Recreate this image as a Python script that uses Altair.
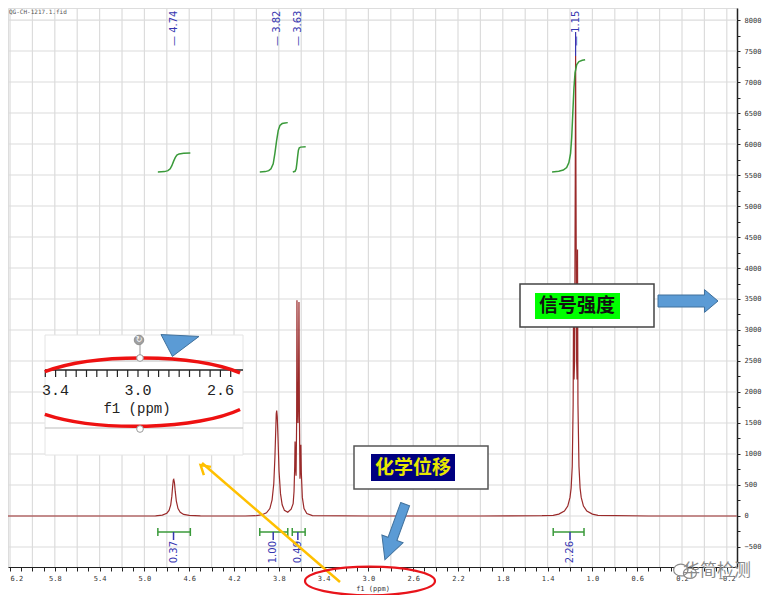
import altair as alt
import pandas as pd

# ---------------- values ----------------
# spectrum (ppm, intensity), one small list per region
base_left = [(6.22, 0), (5.50, 0), (5.00, 0)]
peak_474 = [(4.90, 3), (4.84, 15), (4.80, 45), (4.78, 90), (4.765, 180), (4.755, 320), (4.748, 480),
            (4.742, 580), (4.738, 590), (4.732, 540), (4.725, 400), (4.715, 240), (4.70, 120),
            (4.68, 60), (4.65, 25), (4.60, 10), (4.50, 2)]
peak_382 = [(4.10, 0), (4.00, 5), (3.95, 20), (3.91, 50), (3.88, 120), (3.86, 260), (3.845, 520),
            (3.835, 940), (3.828, 1350), (3.823, 1650), (3.819, 1700), (3.814, 1600), (3.807, 1250),
            (3.798, 720), (3.785, 360), (3.77, 180), (3.75, 90), (3.72, 60), (3.69, 110)]
peak_363 = [(3.672, 200), (3.664, 400), (3.658, 800), (3.655, 1200), (3.651, 800), (3.646, 650),
            (3.641, 1500), (3.638, 3480), (3.634, 2000), (3.629, 1500), (3.624, 2000), (3.620, 3450),
            (3.616, 1600), (3.611, 600), (3.606, 800), (3.603, 1150), (3.599, 700), (3.59, 300),
            (3.575, 120), (3.55, 40), (3.50, 5)]
base_mid = [(3.00, 0), (2.00, 0), (1.45, 5)]
peak_115 = [(1.35, 10), (1.30, 30), (1.25, 80), (1.22, 160), (1.20, 300), (1.19, 450), (1.18, 800),
            (1.172, 1800), (1.168, 3700), (1.164, 2200), (1.159, 2500), (1.153, 5500), (1.150, 7420),
            (1.147, 5500), (1.141, 2500), (1.137, 2200), (1.133, 4300), (1.129, 1800), (1.12, 800),
            (1.11, 450), (1.10, 300), (1.08, 160), (1.05, 80), (1.00, 30), (0.95, 10)]
base_right = [(0.50, 0), (-0.29, 0)]

# peak picking labels
peak_ppm = [4.74, 3.82, 3.63, 1.15]
peak_text = ["4.74", "3.82", "3.63", "1.15"]

# integrals
int_text = ["0.37", "1.00", "0.49", "2.26"]
int_from = [4.88, 3.97, 3.68, 1.35]
int_to = [4.59, 3.72, 3.565, 1.075]
int_mid = [4.74, 3.85, 3.63, 1.20]

# integral curves (ppm, curve level)
curve_037 = [(4.88, 5550), (4.82, 5555), (4.79, 5570), (4.77, 5600), (4.755, 5650), (4.74, 5720),
             (4.725, 5780), (4.71, 5820), (4.69, 5840), (4.65, 5850), (4.59, 5855)]
curve_100 = [(3.97, 5550), (3.92, 5555), (3.89, 5570), (3.87, 5600), (3.85, 5680), (3.835, 5850),
             (3.82, 6050), (3.805, 6220), (3.79, 6300), (3.77, 6330), (3.745, 6340), (3.72, 6345)]
curve_049 = [(3.675, 5550), (3.655, 5560), (3.645, 5600), (3.638, 5700), (3.632, 5800),
             (3.625, 5900), (3.617, 5940), (3.605, 5950), (3.56, 5955)]
curve_226 = [(1.36, 5550), (1.30, 5560), (1.26, 5580), (1.23, 5620), (1.21, 5700), (1.195, 5850),
             (1.185, 6100), (1.175, 6500), (1.165, 6900), (1.155, 7150), (1.14, 7280), (1.12, 7330),
             (1.09, 7350), (1.065, 7360)]

# axes / grid
x_ticks = [6.2, 6.1, 6.0, 5.9, 5.8, 5.7, 5.6, 5.5, 5.4, 5.3, 5.2, 5.1, 5.0, 4.9, 4.8, 4.7, 4.6, 4.5,
           4.4, 4.3, 4.2, 4.1, 4.0, 3.9, 3.8, 3.7, 3.6, 3.5, 3.4, 3.3, 3.2, 3.1, 3.0, 2.9, 2.8, 2.7,
           2.6, 2.5, 2.4, 2.3, 2.2, 2.1, 2.0, 1.9, 1.8, 1.7, 1.6, 1.5, 1.4, 1.3, 1.2, 1.1, 1.0, 0.9,
           0.8, 0.7, 0.6, 0.5, 0.4, 0.3, 0.2, 0.1, 0.0, -0.1, -0.2]
x_grid = [6.2, 6.0, 5.8, 5.6, 5.4, 5.2, 5.0, 4.8, 4.6, 4.4, 4.2, 4.0, 3.8, 3.6, 3.4, 3.2, 3.0,
          2.8, 2.6, 2.4, 2.2, 2.0, 1.8, 1.6, 1.4, 1.2, 1.0, 0.8, 0.6, 0.4, 0.2, 0.0, -0.2]
y_ticks = [-750, -500, -250, 0, 250, 500, 750, 1000, 1250, 1500, 1750, 2000, 2250, 2500, 2750, 3000,
           3250, 3500, 3750, 4000, 4250, 4500, 4750, 5000, 5250, 5500, 5750, 6000, 6250, 6500, 6750,
           7000, 7250, 7500, 7750, 8000]
y_grid = [-500, 0, 500, 1000, 1500, 2000, 2500, 3000, 3500, 4000, 4500, 5000, 5500, 6000, 6500,
          7000, 7500, 8000]

# inset (zoomed axis) labels and ticks
inset_labels = ["3.4", "3.0", "2.6"]
inset_label_ppm = [3.4, 3.0, 2.6]
inset_ticks = [3.45, 3.4, 3.35, 3.3, 3.25, 3.2, 3.15, 3.1, 3.05, 3.0, 2.95, 2.9, 2.85, 2.8, 2.75,
               2.7, 2.65, 2.6, 2.55]

# ---------------- layout ----------------
W, H = 729, 559
X_LEFT, X_RIGHT = 6.218, -0.291
Y_BOT, Y_TOP = -823, 8194


def px(sx):
    return sx - 8


def py(sy):
    return sy - 8


def ppm_at(sx):
    return X_LEFT - (sx - 8) * (X_LEFT - X_RIGHT) / W


def val_at(sy):
    return Y_TOP - (sy - 8) * (Y_TOP - Y_BOT) / H


XS = alt.Scale(domain=[X_RIGHT, X_LEFT], reverse=True, nice=False, zero=False)
YS = alt.Scale(domain=[Y_BOT, Y_TOP], nice=False, zero=False)
XAXIS = alt.Axis(values=x_ticks, grid=False, title="f1 (ppm)",
                 labelExpr="abs(round(datum.value*10) % 4) == 2 ? format(datum.value, '.1f') : ''",
                 labelAlign={"condition": {"test": "datum.value > 6.1", "value": "left"}, "value": "center"},
                 tickSize=4, tickColor="#222", domainColor="#222", labelColor="#333",
                 labelFont="DejaVu Sans Mono", labelFontSize=7, labelPadding=3,
                 titleFont="DejaVu Sans Mono", titleFontSize=7, titleFontWeight="normal",
                 titleColor="#333", titlePadding=3, labelFlush=False)
YAXIS = alt.Axis(values=y_ticks, orient="right", grid=False, title=None,
                 labelExpr="datum.value % 500 == 0 ? format(datum.value, 'd') : ''",
                 tickSize=3, tickColor="#222", domainColor="#222", domainWidth=1.5,
                 labelColor="#333", labelFont="DejaVu Sans Mono", labelFontSize=7,
                 labelPadding=4, labelFlush=False)


def X(f):
    return alt.X(f"{f}:Q", scale=XS, axis=XAXIS)


def Y(f):
    return alt.Y(f"{f}:Q", scale=YS, axis=YAXIS)


def pts(lst, name):
    return pd.DataFrame({"ppm": [p for p, _ in lst], "v": [v for _, v in lst], "g": name})


one = pd.DataFrame({"a": [0]})

# grid
gx = alt.Chart(pd.DataFrame({"ppm": x_grid})).mark_rule(color="#dcdcdc", strokeWidth=1.2).encode(
    x=X("ppm"), y=alt.value(0), y2=alt.value(H))
gy = alt.Chart(pd.DataFrame({"v": y_grid})).mark_rule(color="#dcdcdc", strokeWidth=1.2).encode(
    y=Y("v"), x=alt.value(0), x2=alt.value(W))

spec = pd.concat([pts(base_left, "s"), pts(peak_474, "s"), pts(peak_382, "s"), pts(peak_363, "s"),
                  pts(base_mid, "s"), pts(peak_115, "s"), pts(base_right, "s")])
spec_line = alt.Chart(spec).mark_line(color="#9a2a2a", strokeWidth=1.2).encode(x=X("ppm"), y=Y("v"))

curves = pd.concat([pts(curve_037, "a"), pts(curve_100, "b"), pts(curve_049, "c"), pts(curve_226, "d")])
curve_line = alt.Chart(curves).mark_line(color="#3a9a3a", strokeWidth=1.5).encode(
    x=X("ppm"), y=Y("v"), detail="g:N")

# peak labels at top
pk = pd.DataFrame({"ppm": peak_ppm, "t": ["— " + t for t in peak_text]})
peak_lbl = alt.Chart(pk).mark_text(angle=270, align="left", baseline="middle", color="#3636b0",
                                   font="DejaVu Sans", fontSize=10).encode(
    x=X("ppm"), y=alt.value(py(46)), text="t:N")
tip = alt.Chart(pd.DataFrame({"ppm": [1.15], "v": [7420], "v2": [val_at(32)]})).mark_rule(
    color="#3636b0", strokeWidth=1.2).encode(x=X("ppm"), y=Y("v"), y2="v2:Q")

# integral bars
ib = pd.DataFrame({"a": int_from, "b": int_to, "m": int_mid, "t": int_text,
                   "yb": val_at(532), "ycap1": val_at(528), "ycap2": val_at(536), "ytk": val_at(540)})
bar = alt.Chart(ib).mark_rule(color="#3a9a3a", strokeWidth=1.5).encode(x=X("a"), x2="b:Q", y=Y("yb"))
cap1 = alt.Chart(ib).mark_rule(color="#3a9a3a", strokeWidth=1.5).encode(x=X("a"), y=Y("ycap1"), y2="ycap2:Q")
cap2 = alt.Chart(ib).mark_rule(color="#3a9a3a", strokeWidth=1.5).encode(x=X("b"), y=Y("ycap1"), y2="ycap2:Q")
itk = alt.Chart(ib).mark_rule(color="#3636b0", strokeWidth=1.5).encode(x=X("m"), y=Y("yb"), y2="ytk:Q")
ilbl = alt.Chart(ib).mark_text(angle=270, align="right", baseline="middle", color="#3636b0",
                               font="DejaVu Sans", fontSize=10).encode(
    x=X("m"), y=alt.value(py(541)), text="t:N")

# file name
fname = alt.Chart(pd.DataFrame({"t": ["QG-CH-1217.1.fid"]})).mark_text(
    align="left", baseline="middle", fontSize=6, font="DejaVu Sans Mono", color="#555").encode(
    x=alt.value(px(9)), y=alt.value(py(12)), text="t:N")

# ---------------- annotations ----------------
def box(x1, y1, x2, y2, fill, stroke=None, sw=1.5):
    kw = {"fill": fill}
    if stroke:
        kw.update(stroke=stroke, strokeWidth=sw)
    return alt.Chart(one).mark_rect(**kw).encode(
        x=alt.value(px(x1)), x2=alt.value(px(x2)), y=alt.value(py(y1)), y2=alt.value(py(y2)))


def label(sx, sy, t, **kw):
    return alt.Chart(pd.DataFrame({"t": [t]})).mark_text(**kw).encode(
        x=alt.value(px(sx)), y=alt.value(py(sy)), text="t:N")


def shape(sx, sy, path, size, **kw):
    return alt.Chart(one).mark_point(shape=path, size=size, opacity=1, **kw).encode(
        x=alt.value(px(sx)), y=alt.value(py(sy)))


def seg(x1, y1, x2, y2, color, sw):
    return alt.Chart(one).mark_rule(color=color, strokeWidth=sw).encode(
        x=alt.value(px(x1)), x2=alt.value(px(x2)), y=alt.value(py(y1)), y2=alt.value(py(y2)))


# 化学位移 box
shift_box = box(354, 446, 488, 489, "white", "#555")
shift_bg = box(371, 454, 455, 481, "#000080")
shift_txt = label(413, 468, "化学位移", font="Noto Sans CJK SC", fontSize=19, fontWeight="bold",
                  color="#e8e800", align="center", baseline="middle")
# 信号强度 box
sig_box = box(520, 284, 654, 327, "white", "#444")
sig_bg = box(535, 293, 620, 319, "#00ff00")
sig_txt = label(577, 306, "信号强度", font="Noto Sans CJK SC", fontSize=19, fontWeight="bold",
                color="#111", align="center", baseline="middle")

ARROW_R = "M -1 -0.2 L 0.55 -0.2 L 0.55 -0.38 L 1 0 L 0.55 0.38 L 0.55 0.2 L -1 0.2 Z"
ARROW_D = "M -0.16 -1 L 0.16 -1 L 0.16 0.25 L 0.38 0.25 L 0 1 L -0.38 0.25 L -0.16 0.25 Z"
right_arrow = shape(688, 301, ARROW_R, 3600, filled=True, fill="#5b9bd5", stroke="#41719c", strokeWidth=1)
down_arrow = shape(395, 532, ARROW_D, 3500, filled=True, fill="#5b9bd5", stroke="#41719c",
                   strokeWidth=1, angle=20)

# red ellipse around the axis label
ELL = "M -1 0 A 1 0.22 0 1 0 1 0 A 1 0.22 0 1 0 -1 0 Z"
ellipse = shape(370, 581, ELL, 130 * 130, filled=False, stroke="#e8141b", strokeWidth=2.2)

# inset
inset_bg = box(45, 335, 243, 455, "white", "#e4e4e4", 1)
in_l1 = seg(45, 361, 243, 361, "#bdbdbd", 1.2)
in_l2 = seg(45, 428, 243, 428, "#bdbdbd", 1.2)
in_axis = seg(45, 370, 243, 370, "#222", 1.5)


def inset_x(v):
    return ppm_at(138 + (3.0 - v) * 206)


itick = pd.DataFrame({"ppm": [inset_x(v) for v in inset_ticks]})
in_ticks = alt.Chart(itick).mark_rule(color="#222", strokeWidth=1.2).encode(
    x=X("ppm"), y=alt.value(py(370)), y2=alt.value(py(377)))
ilab = pd.DataFrame({"ppm": [inset_x(v) for v in inset_label_ppm], "t": inset_labels})
in_labels = alt.Chart(ilab).mark_text(font="Liberation Mono", fontSize=15, color="#222",
                                      baseline="middle").encode(
    x=X("ppm"), y=alt.value(py(390)), text="t:N")
in_title = label(137, 409, "f1 (ppm)", font="Liberation Mono", fontSize=14, color="#222",
                 align="center", baseline="middle")
ARCS = ("M -0.78 -0.175 A 1 0.29 0 0 1 0.82 -0.165 "
        "M -0.78 0.175 A 1 0.29 0 0 0 0.82 0.135")
in_arcs = shape(140, 393, ARCS, 244 * 244, filled=False, stroke="#ee1111", strokeWidth=3.5)
rot_line = seg(140, 344, 140, 358, "#999", 1)
handle1 = shape(140, 358, "circle", 45, filled=True, fill="white", stroke="#999", strokeWidth=1)
handle2 = shape(140, 429, "circle", 45, filled=True, fill="white", stroke="#999", strokeWidth=1)
rot = shape(139, 340, "circle", 90, filled=True, fill="#a0a0a0", stroke="#909090", strokeWidth=1)
rot_icon = label(139, 340, "↻", font="DejaVu Sans", fontSize=8, color="white",
                 align="center", baseline="middle")
TRI = "M -1 -0.55 L 1 -0.45 L -0.4 0.6 Z"
in_tri = shape(180, 345, TRI, 38 * 38, filled=True, fill="#5b9bd5", stroke="#41719c", strokeWidth=1)

# yellow arrow
yel = seg(340, 582, 202, 463, "#ffc000", 2.5)
CHEV = "M -0.6 0.5 L 0 -0.5 L 0.6 0.5"
yel_head = shape(204, 468, CHEV, 18 * 18, filled=False, stroke="#ffc000", strokeWidth=2.5, angle=311)

# watermark
wm_txt = label(717, 571, "华简检测", font="Noto Sans CJK SC", fontSize=17, color="#8a8a8a",
               align="center", baseline="middle")
WE = ("M -0.95 0 A 0.55 0.45 0 1 1 0.15 0 A 0.55 0.45 0 1 1 -0.95 0 Z "
      "M -0.2 0.25 A 0.5 0.4 0 1 1 0.8 0.25 A 0.5 0.4 0 1 1 -0.2 0.25 Z")
wm_icon = shape(686, 570, WE, 26 * 26, filled=True, fill="white", stroke="#8a8a8a", strokeWidth=1.2)

chart = alt.layer(
    gx, gy, spec_line, curve_line, tip, peak_lbl, bar, cap1, cap2, itk, ilbl, fname,
    inset_bg, in_l1, in_l2, in_axis, in_ticks, in_labels, in_title, in_arcs, rot_line,
    handle1, handle2, rot, rot_icon, in_tri,
    shift_box, shift_bg, shift_txt, down_arrow,
    sig_box, sig_bg, sig_txt, right_arrow,
    yel, yel_head, ellipse, wm_icon, wm_txt,
).properties(
    width=W, height=H,
    autosize=alt.AutoSizeParams(type="none"),
    padding={"left": 0, "top": 0, "right": 33, "bottom": 28},
).configure_view(stroke=None).configure(background="white")

chart.save("out.html", embed_options={"renderer": "svg", "actions": False})
